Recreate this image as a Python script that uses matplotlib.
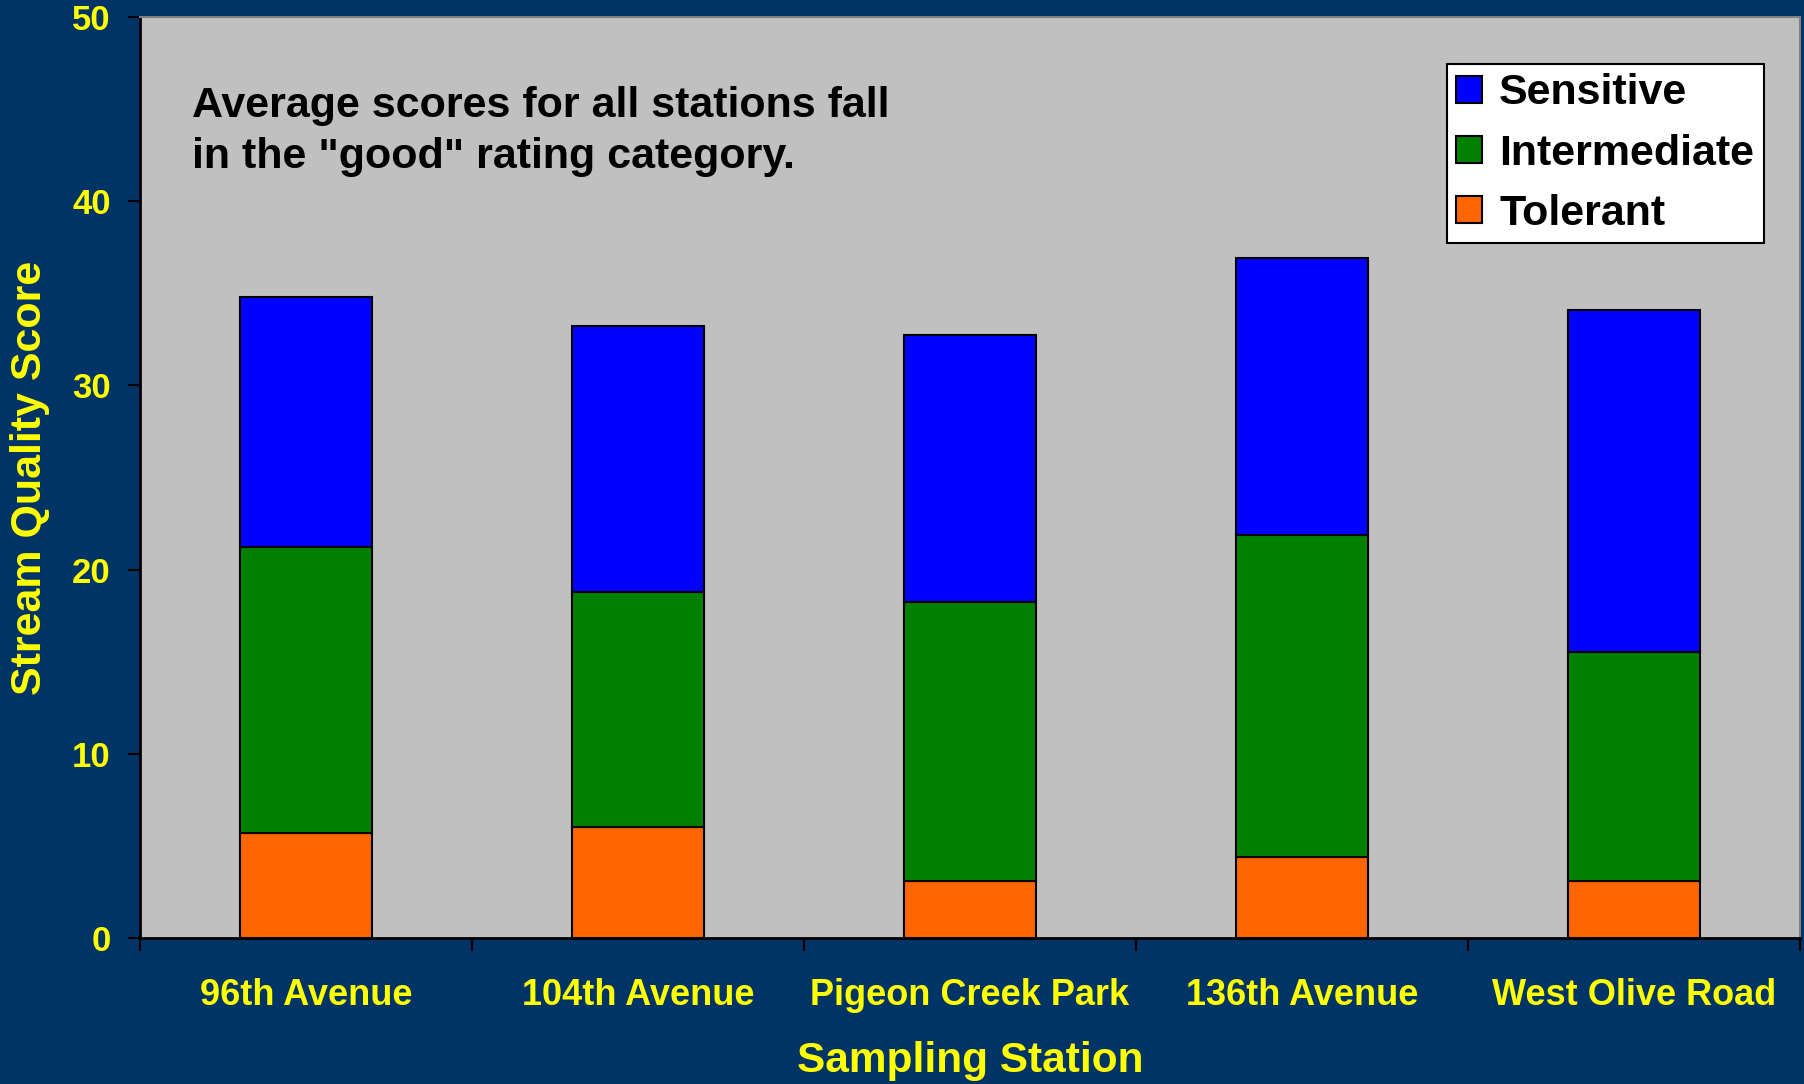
import matplotlib
matplotlib.use("Agg")
import matplotlib.pyplot as plt
import numpy as np

stations = ["96th Avenue", "104th Avenue", "Pigeon Creek Park", "136th Avenue", "West Olive Road"]
tolerant = [5.7, 6.05, 3.1, 4.4, 3.1]
intermediate = [15.55, 12.75, 15.15, 17.5, 12.4]
sensitive = [13.55, 14.4, 14.5, 15.0, 18.6]

plt.rcParams["font.family"] = ["Liberation Sans", "DejaVu Sans"]
plt.rcParams["font.weight"] = "bold"

yellow = "#FFFF00"
navy = "#003366"

fig = plt.figure(figsize=(18.04, 10.84), dpi=100, facecolor=navy)
ax = fig.add_axes([0.0776, 0.1347, 0.9202, 0.8496])
ax.set_facecolor("#C0C0C0")

x = np.arange(len(stations))
bot2 = np.array(tolerant)
bot3 = bot2 + np.array(intermediate)

b1 = ax.bar(x, tolerant, width=0.4, color="#FF6600", edgecolor="black", linewidth=1.5, label="Tolerant")
b2 = ax.bar(x, intermediate, width=0.4, bottom=bot2, color="#008000", edgecolor="black", linewidth=1.5,
            label="Intermediate")
b3 = ax.bar(x, sensitive, width=0.4, bottom=bot3, color="#0000FF", edgecolor="black", linewidth=1.5,
            label="Sensitive")

ax.set_xlim(-0.5, len(stations) - 0.5)
ax.set_ylim(0, 50)
ax.set_yticks(range(0, 51, 10))

# ticks between categories, labels at centres
ax.set_xticks(np.arange(-0.5, len(stations), 1.0))
ax.set_xticklabels([])
ax.set_xticks(x, minor=True)
ax.set_xticklabels(stations, minor=True)
ax.tick_params(axis="x", which="major", length=9, width=1.5, color="black", direction="out")
ax.tick_params(axis="x", which="minor", length=0, pad=29, labelsize=26, labelcolor=yellow)
ax.tick_params(axis="y", length=9, width=1.5, color="black", direction="out", pad=12,
               labelsize=25, labelcolor=yellow)
for lab in ax.get_xticklabels(minor=True) + ax.get_yticklabels():
    lab.set_fontweight("bold")

for s in ["left", "bottom"]:
    ax.spines[s].set_color("black")
    ax.spines[s].set_linewidth(2)
for s in ["top", "right"]:
    ax.spines[s].set_color("#808080")
    ax.spines[s].set_linewidth(1.5)

ax.set_ylabel("Stream Quality Score", fontsize=31, color=yellow, fontweight="bold")
ax.yaxis.set_label_coords(-0.054, 0.5)
ax.set_xlabel("Sampling Station", fontsize=30.5, color=yellow, fontweight="bold")
ax.xaxis.set_label_coords(0.5, -0.112)

ax.text(0.0313, 0.925, 'Average scores for all stations fall\nin the "good" rating category.',
        transform=ax.transAxes, ha="left", va="top", fontsize=31, fontweight="bold",
        color="black", linespacing=1.35)

leg = ax.legend(handles=[b3, b2, b1], loc="upper right", bbox_to_anchor=(0.978, 0.949),
                borderaxespad=0, frameon=True, fancybox=False,
                handlelength=0.6, handleheight=0.6, handletextpad=0.4, borderpad=0.22,
                labelspacing=0.47, prop={"weight": "bold", "size": 31})
leg.get_frame().set_edgecolor("black")
leg.get_frame().set_linewidth(1.5)
leg.get_frame().set_facecolor("white")
leg.get_frame().set_alpha(1)

fig.savefig("out.png", dpi=100, facecolor=navy)
